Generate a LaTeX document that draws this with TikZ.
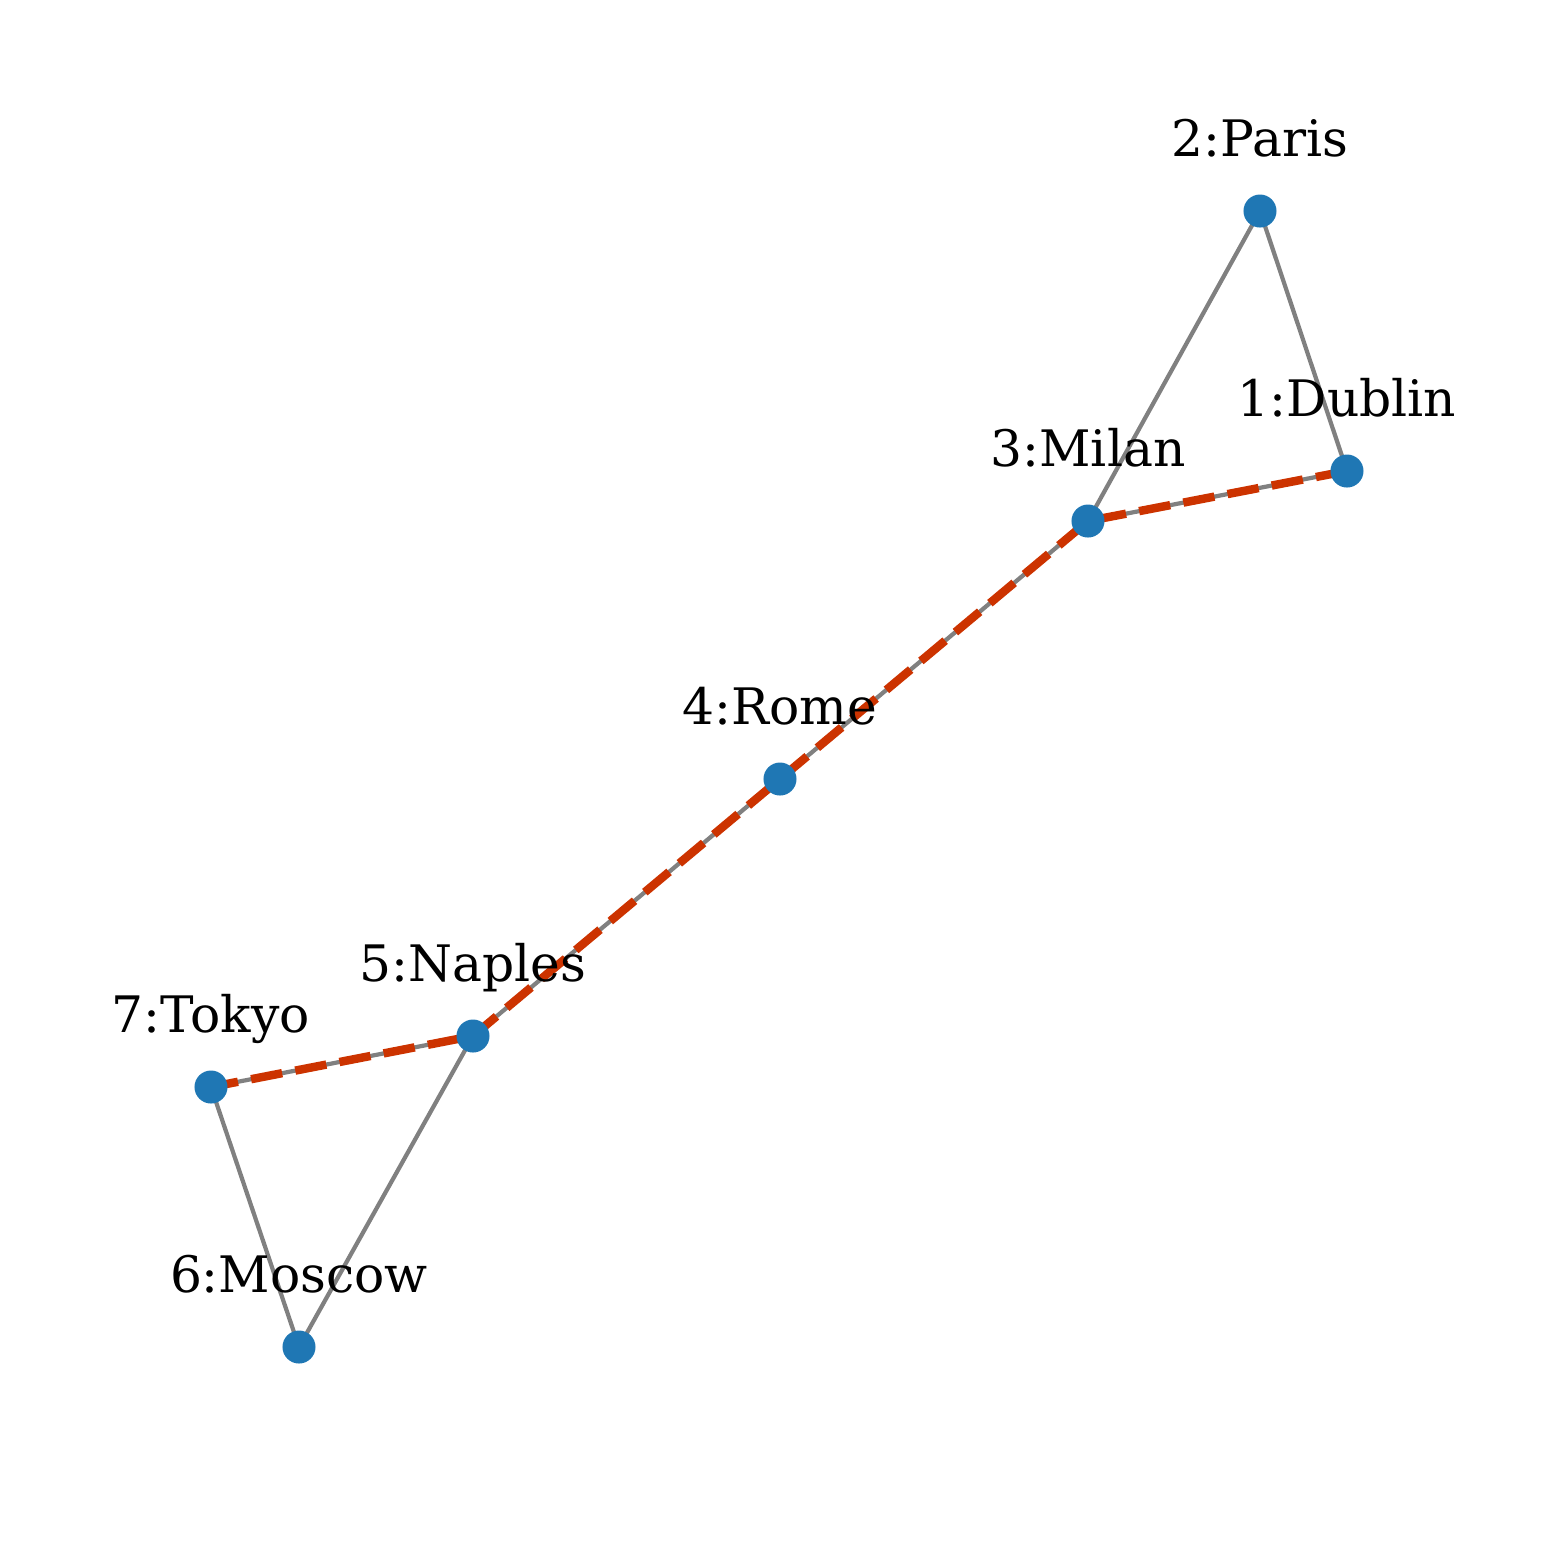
\documentclass[tikz,border=0pt]{standalone}
\usepackage{fontspec}
\setmainfont{DejaVu Serif}
\usetikzlibrary{positioning,backgrounds}
\definecolor{cityblue}{HTML}{1F77B4}
\definecolor{pathred}{HTML}{CC3300}
\tikzset{
  city/.style={circle,fill=cityblue,inner sep=0pt,minimum size=0.33cm},
  citylabel/.style={inner sep=0pt,anchor=base,font=\fontsize{14.3}{17}\selectfont},
  road/.style={gray,line width=1.2pt},
  route/.style={pathred,line width=2.4pt,dash pattern=on 9pt off 3.8pt}
}
\begin{document}
\begin{tikzpicture}[x=0.01cm,y=-0.01cm]
\path[use as bounding box] (0,0) rectangle (1559,1559);
\node[city] (dublin) at (1347,471) {};
\node[city] (paris) at (1260,211) {};
\node[city] (milan) at (1088,521) {};
\node[city] (rome) at (780,779) {};
\node[city] (naples) at (473,1036) {};
\node[city] (moscow) at (299,1347) {};
\node[city] (tokyo) at (211,1087) {};
\node[citylabel,above=0.54cm of dublin.center,anchor=base] (ldublin) {1:Dublin};
\node[citylabel,above=0.54cm of paris.center,anchor=base] (lparis) {2:Paris};
\node[citylabel,above=0.54cm of milan.center,anchor=base] (lmilan) {3:Milan};
\node[citylabel,above=0.54cm of rome.center,anchor=base] (lrome) {4:Rome};
\node[citylabel,above=0.54cm of naples.center,anchor=base] (lnaples) {5:Naples};
\node[citylabel,above=0.54cm of moscow.center,anchor=base] (lmoscow) {6:Moscow};
\node[citylabel,above=0.54cm of tokyo.center,anchor=base] (ltokyo) {7:Tokyo};
\begin{scope}[on background layer]
\draw[road] (dublin.center) -- (paris.center) -- (milan.center) -- (dublin.center);
\draw[road] (milan.center) -- (rome.center) -- (naples.center);
\draw[road] (naples.center) -- (moscow.center) -- (tokyo.center) -- (naples.center);
% shortest route
\draw[route] (dublin.center) -- (milan.center) -- (rome.center) -- (naples.center) -- (tokyo.center);
\end{scope}
\end{tikzpicture}
\end{document}
